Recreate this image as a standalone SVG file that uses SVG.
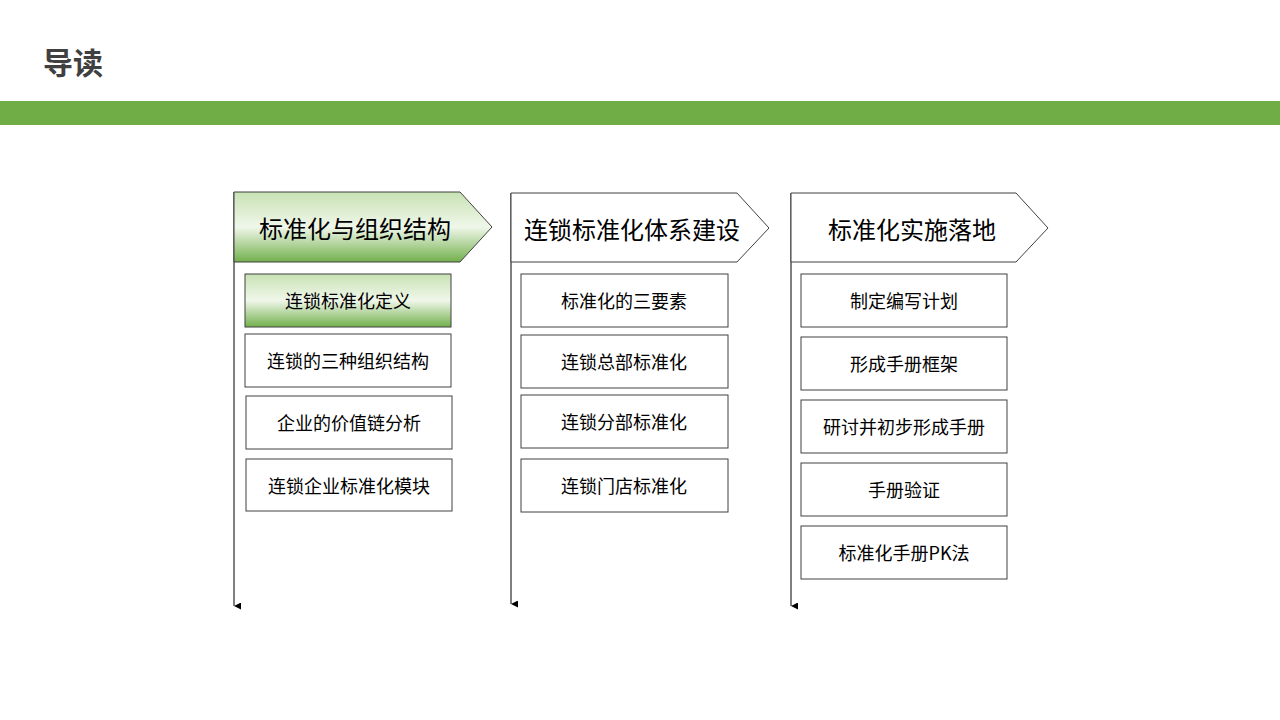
<svg xmlns="http://www.w3.org/2000/svg" width="1280" height="720" viewBox="0 0 1280 720">
<defs>
<linearGradient id="g" x1="0" y1="0" x2="0" y2="1">
<stop offset="0" stop-color="#c8e2b4"/><stop offset="0.5" stop-color="#f0f7ea"/><stop offset="1" stop-color="#72b04c"/>
</linearGradient>
<marker id="a" viewBox="0 0 10 10" refX="5" refY="10" markerWidth="7" markerHeight="7" orient="auto-start-reverse" markerUnits="userSpaceOnUse"><path d="M0,0 L10,0 L5,10 z" fill="#000"/></marker>
</defs>
<style>
.t{font-family:"Noto Sans CJK SC","Liberation Sans",sans-serif;fill:#000;text-anchor:middle;dominant-baseline:central}
.h{font-size:24px}.b{font-size:18px}
.s{fill:#fff;stroke:#404040;stroke-width:1}
.gr{fill:url(#g);stroke:#404040;stroke-width:1}
.ln{stroke:#000;stroke-width:1;fill:none}
</style>
<rect width="1280" height="720" fill="#fff"/>
<text x="43" y="61" font-family="Noto Sans CJK SC,sans-serif" font-size="30" font-weight="bold" fill="#404040" dominant-baseline="central">导读</text>
<rect x="0" y="101" width="1280" height="24" fill="#70ad47"/>
<g id="connectors">
<line class="ln" x1="234" y1="192" x2="234" y2="606" marker-end="url(#a)"/>
<line class="ln" x1="511" y1="193" x2="511" y2="604" marker-end="url(#a)"/>
<line class="ln" x1="791" y1="193" x2="791" y2="606" marker-end="url(#a)"/>
</g>
<g id="h1"><polygon class="gr" points="234,192 460,192 492,227 460,262 234,262"/><text class="t h" x="355" y="227">标准化与组织结构</text></g>
<g id="h2"><polygon class="s" points="511,193 737,193 769,228 737,262 511,262"/><text class="t h" x="632" y="228">连锁标准化体系建设</text></g>
<g id="h3"><polygon class="s" points="791,193 1016,193 1048,228 1016,262 791,262"/><text class="t h" x="912" y="228">标准化实施落地</text></g>
<g id="n11"><rect class="gr" x="245" y="274" width="206" height="53"/><text class="t b" x="348" y="300">连锁标准化定义</text></g>
<g id="n12"><rect class="s" x="245" y="334" width="206" height="53"/><text class="t b" x="348" y="360">连锁的三种组织结构</text></g>
<g id="n13"><rect class="s" x="246" y="396" width="206" height="53"/><text class="t b" x="349" y="422">企业的价值链分析</text></g>
<g id="n14"><rect class="s" x="246" y="459" width="206" height="52"/><text class="t b" x="349" y="485">连锁企业标准化模块</text></g>
<g id="n21"><rect class="s" x="521" y="274" width="207" height="53"/><text class="t b" x="624" y="300">标准化的三要素</text></g>
<g id="n22"><rect class="s" x="521" y="335" width="207" height="53"/><text class="t b" x="624" y="361">连锁总部标准化</text></g>
<g id="n23"><rect class="s" x="521" y="395" width="207" height="53"/><text class="t b" x="624" y="421">连锁分部标准化</text></g>
<g id="n24"><rect class="s" x="521" y="459" width="207" height="53"/><text class="t b" x="624" y="485">连锁门店标准化</text></g>
<g id="n31"><rect class="s" x="801" y="274" width="206" height="53"/><text class="t b" x="904" y="300">制定编写计划</text></g>
<g id="n32"><rect class="s" x="801" y="337" width="206" height="53"/><text class="t b" x="904" y="363">形成手册框架</text></g>
<g id="n33"><rect class="s" x="801" y="400" width="206" height="53"/><text class="t b" x="904" y="426">研讨并初步形成手册</text></g>
<g id="n34"><rect class="s" x="801" y="463" width="206" height="53"/><text class="t b" x="904" y="489">手册验证</text></g>
<g id="n35"><rect class="s" x="801" y="526" width="206" height="53"/><text class="t b" x="904" y="552">标准化手册PK法</text></g>
</svg>
